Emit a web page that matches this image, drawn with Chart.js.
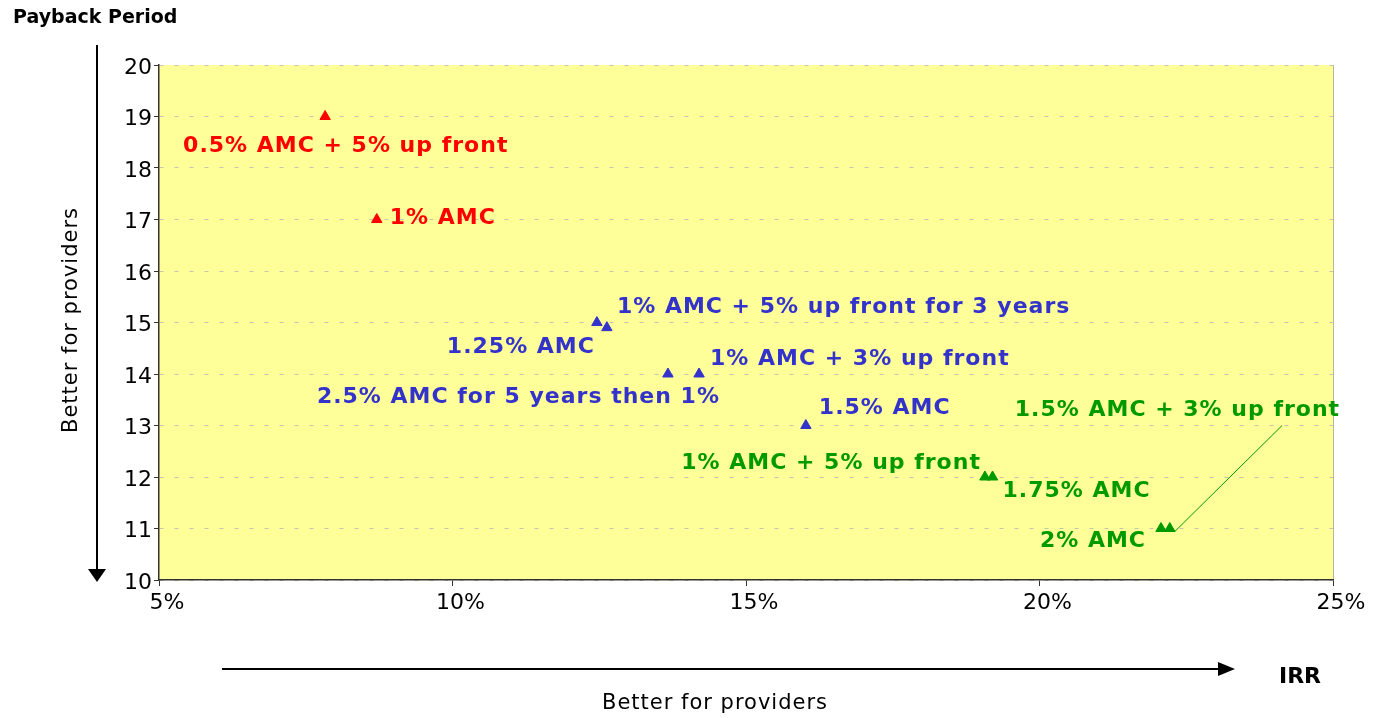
<!DOCTYPE html>
<html>
<head>
<meta charset="utf-8">
<script src="https://cdn.jsdelivr.net/npm/chart.js@4.4.1/dist/chart.umd.min.js"></script>
<style>
  html, body { margin: 0; padding: 0; background: #ffffff; }
  #c { display: block; }
</style>
</head>
<body>
<canvas id="c" width="1373" height="718"></canvas>
<script>
// Charging structures: internal rate of return (%) against payback period (years)
const redIrr = [7.83, 8.71];
const redPayback = [19, 17];
const redNames = ['0.5% AMC + 5% up front', '1% AMC'];

const blueIrr = [12.46, 12.63, 13.67, 14.2, 16.02];
const bluePayback = [15, 14.9, 14, 14, 13];
const blueNames = ['1.25% AMC', '1% AMC + 5% up front for 3 years', '2.5% AMC for 5 years then 1%', '1% AMC + 3% up front', '1.5% AMC'];

const greenIrr = [19.07, 19.2, 22.07, 22.22];
const greenPayback = [12, 12, 11, 11];
const greenNames = ['1% AMC + 5% up front', '1.75% AMC', '2% AMC', '1.5% AMC + 3% up front'];

const xTicks = [5, 10, 15, 20, 25];
const yTicks = [10, 11, 12, 13, 14, 15, 16, 17, 18, 19, 20];

const RED = '#ff0000';
const BLUE = '#3333cc';
const GREEN = '#009900';

function pts(xs, ys) { return xs.map((x, i) => ({ x: x, y: ys[i] })); }

// Label placement per point: pixel offset from the marker and text alignment
const labelLayout = [
  [ { dx: -142, dy: 30, align: 'left' }, { dx: 13, dy: -1, align: 'left' } ],
  [ { dx: -2, dy: 25, align: 'right' }, { dx: 10, dy: -20, align: 'left' },
    { dx: 52, dy: 23, align: 'right' }, { dx: 11, dy: -15, align: 'left' },
    { dx: 13, dy: -17, align: 'left' } ],
  [ { dx: -4, dy: -14, align: 'right' }, { dx: 10, dy: 14, align: 'left' },
    { dx: -15, dy: 13, align: 'right' }, { dx: -155, dy: -118, align: 'left', leader: true } ]
];
const labelNames = [redNames, blueNames, greenNames];

const LABEL_FONT = 'bold 22px "DejaVu Sans", sans-serif';
const AXIS_FONT = 'DejaVu Sans';

const plotBackground = {
  id: 'plotBackground',
  beforeDraw(chart) {
    const { ctx, chartArea: a } = chart;
    ctx.save();
    ctx.fillStyle = '#ffff99';
    ctx.fillRect(a.left, a.top, a.right - a.left, a.bottom - a.top);
    ctx.strokeStyle = '#b8b8a0';
    ctx.lineWidth = 1;
    ctx.beginPath();
    ctx.moveTo(a.right + 0.5, a.top);
    ctx.lineTo(a.right + 0.5, a.bottom);
    ctx.stroke();
    ctx.restore();
  }
};

const pointLabels = {
  id: 'pointLabels',
  afterDatasetsDraw(chart) {
    const ctx = chart.ctx;
    ctx.save();
    ctx.font = LABEL_FONT;
    ctx.letterSpacing = '1px';
    ctx.textBaseline = 'middle';
    chart.data.datasets.forEach((ds, di) => {
      const meta = chart.getDatasetMeta(di);
      meta.data.forEach((el, i) => {
        const lay = labelLayout[di][i];
        const tx = el.x + lay.dx;
        const ty = el.y + lay.dy;
        ctx.fillStyle = ds.borderColor;
        ctx.textAlign = lay.align;
        ctx.fillText(labelNames[di][i], tx, ty);
        if (lay.leader) {
          const w = ctx.measureText(labelNames[di][i]).width;
          ctx.strokeStyle = ds.borderColor;
          ctx.lineWidth = 1;
          ctx.beginPath();
          ctx.moveTo(el.x + 5, el.y + 3);
          ctx.lineTo(tx + w - 58, ty + 15);
          ctx.stroke();
        }
      });
    });
    ctx.restore();
  }
};

const axisDecor = {
  id: 'axisDecor',
  afterDraw(chart) {
    const ctx = chart.ctx;
    ctx.save();
    ctx.fillStyle = '#000';
    ctx.strokeStyle = '#000';
    ctx.lineWidth = 2;

    // vertical arrow pointing down
    ctx.beginPath();
    ctx.moveTo(97, 45);
    ctx.lineTo(97, 572);
    ctx.stroke();
    ctx.beginPath();
    ctx.moveTo(88, 569);
    ctx.lineTo(106, 569);
    ctx.lineTo(97, 582);
    ctx.closePath();
    ctx.fill();

    // horizontal arrow pointing right
    ctx.beginPath();
    ctx.moveTo(222, 669);
    ctx.lineTo(1222, 669);
    ctx.stroke();
    ctx.beginPath();
    ctx.moveTo(1218, 662);
    ctx.lineTo(1235, 669);
    ctx.lineTo(1218, 676);
    ctx.closePath();
    ctx.fill();

    ctx.textBaseline = 'middle';
    ctx.font = 'bold 19px "DejaVu Sans", sans-serif';
    ctx.textAlign = 'left';
    ctx.fillText('Payback Period', 13, 18);

    ctx.font = 'bold 22px "DejaVu Sans", sans-serif';
    ctx.textAlign = 'center';
    ctx.fillText('IRR', 1300, 677);

    ctx.font = '21px "DejaVu Sans", sans-serif';
    ctx.letterSpacing = '1px';
    ctx.fillText('Better for providers', 715, 704);

    ctx.translate(72, 320);
    ctx.rotate(-Math.PI / 2);
    ctx.fillText('Better for providers', 0, 0);
    ctx.restore();
  }
};

new Chart(document.getElementById('c'), {
  type: 'scatter',
  data: {
    datasets: [
      { label: 'red', data: pts(redIrr, redPayback), borderColor: RED, backgroundColor: RED },
      { label: 'blue', data: pts(blueIrr, bluePayback), borderColor: BLUE, backgroundColor: BLUE },
      { label: 'green', data: pts(greenIrr, greenPayback), borderColor: GREEN, backgroundColor: GREEN }
    ]
  },
  options: {
    responsive: false,
    animation: false,
    devicePixelRatio: 1,
    layout: { padding: { top: 65, right: 40, left: 0, bottom: 0 } },
    elements: {
      point: { pointStyle: 'triangle', radius: 6, borderWidth: 1 }
    },
    plugins: {
      legend: { display: false },
      tooltip: { enabled: false }
    },
    scales: {
      x: {
        type: 'linear',
        min: xTicks[0],
        max: xTicks[xTicks.length - 1],
        afterBuildTicks(scale) { scale.ticks = xTicks.map(v => ({ value: v })); },
        afterFit(scale) { scale.height = 138; },
        ticks: {
          callback: v => v + '%',
          color: '#000',
          font: { family: AXIS_FONT, size: 22 },
          padding: 4,
          labelOffset: 8,
          maxRotation: 0
        },
        grid: { drawOnChartArea: false, drawTicks: true, tickLength: 6, color: '#333' },
        border: { display: true, color: '#333', width: 1.5 }
      },
      y: {
        type: 'linear',
        min: yTicks[0],
        max: yTicks[yTicks.length - 1],
        afterBuildTicks(scale) { scale.ticks = yTicks.map(v => ({ value: v })); },
        afterFit(scale) { scale.width = 159; },
        ticks: {
          color: '#000',
          font: { family: AXIS_FONT, size: 22 },
          padding: 2,
          labelOffset: 3
        },
        grid: {
          color: '#c4c4b0',
          tickColor: '#333',
          tickLength: 5,
          lineWidth: 1
        },
        border: { display: true, color: '#333', width: 1.5, dash: [4, 11] }
      }
    }
  },
  plugins: [plotBackground, pointLabels, axisDecor]
});
</script>
</body>
</html>
